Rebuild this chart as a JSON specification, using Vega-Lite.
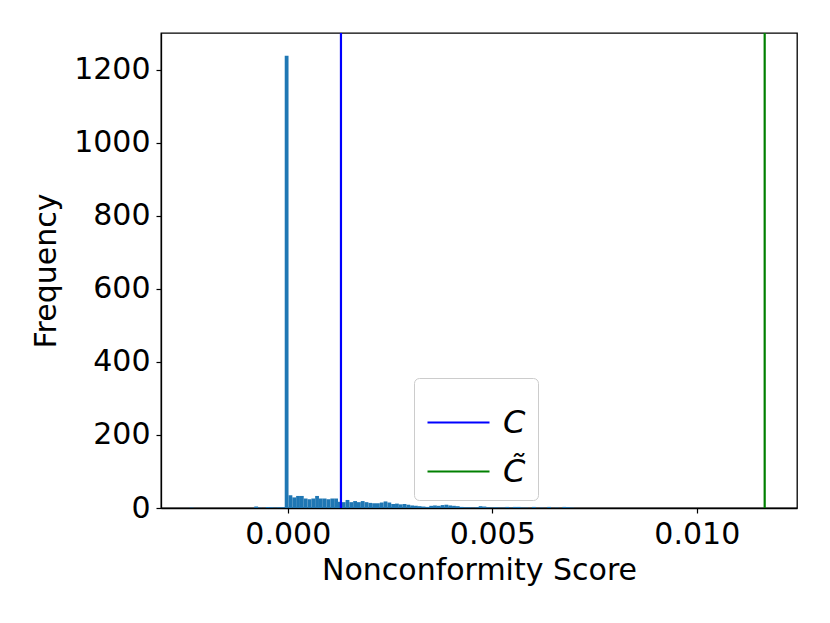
{
  "$schema": "https://vega.github.io/schema/vega-lite/v6.json",
  "width": 636,
  "height": 475,
  "autosize": {"type": "none"},
  "padding": {"left": 161, "top": 33, "right": 33, "bottom": 115},
  "background": "white",
  "config": {
    "font": "DejaVu Sans",
    "view": {"stroke": "black", "strokeWidth": 1.3},
    "axis": {"grid": false, "domainColor": "black", "tickColor": "black", "labelColor": "black", "titleColor": "black", "labelFont": "DejaVu Sans", "titleFont": "DejaVu Sans", "labelFontSize": 30, "titleFontSize": 30, "titleFontWeight": "normal", "tickSize": 5, "tickWidth": 1.2, "domainWidth": 1.3}
  },
  "datasets": {
    "hist": [
      {"b0": -0.002400, "b1": -0.002307, "count": 1},
      {"b0": -0.000819, "b1": -0.000726, "count": 4},
      {"b0": -0.000726, "b1": -0.000633, "count": 1},
      {"b0": -0.000540, "b1": -0.000447, "count": 3},
      {"b0": -0.000447, "b1": -0.000354, "count": 2},
      {"b0": -0.000354, "b1": -0.000261, "count": 1},
      {"b0": -0.000261, "b1": -0.000168, "count": 2},
      {"b0": -0.000168, "b1": -0.000075, "count": 2},
      {"b0": -0.000075, "b1": 0.000018, "count": 1239},
      {"b0": 0.000018, "b1": 0.000111, "count": 35},
      {"b0": 0.000111, "b1": 0.000204, "count": 29},
      {"b0": 0.000204, "b1": 0.000297, "count": 33},
      {"b0": 0.000297, "b1": 0.000390, "count": 33},
      {"b0": 0.000390, "b1": 0.000483, "count": 26},
      {"b0": 0.000483, "b1": 0.000576, "count": 24},
      {"b0": 0.000576, "b1": 0.000669, "count": 26},
      {"b0": 0.000669, "b1": 0.000762, "count": 33},
      {"b0": 0.000762, "b1": 0.000855, "count": 26},
      {"b0": 0.000855, "b1": 0.000948, "count": 26},
      {"b0": 0.000948, "b1": 0.001041, "count": 24},
      {"b0": 0.001041, "b1": 0.001134, "count": 26},
      {"b0": 0.001134, "b1": 0.001227, "count": 26},
      {"b0": 0.001227, "b1": 0.001320, "count": 17},
      {"b0": 0.001320, "b1": 0.001413, "count": 16},
      {"b0": 0.001413, "b1": 0.001506, "count": 22},
      {"b0": 0.001506, "b1": 0.001599, "count": 16},
      {"b0": 0.001599, "b1": 0.001692, "count": 19},
      {"b0": 0.001692, "b1": 0.001785, "count": 16},
      {"b0": 0.001785, "b1": 0.001878, "count": 19},
      {"b0": 0.001878, "b1": 0.001971, "count": 16},
      {"b0": 0.001971, "b1": 0.002064, "count": 14},
      {"b0": 0.002064, "b1": 0.002157, "count": 13},
      {"b0": 0.002157, "b1": 0.002250, "count": 13},
      {"b0": 0.002250, "b1": 0.002343, "count": 15},
      {"b0": 0.002343, "b1": 0.002436, "count": 18},
      {"b0": 0.002436, "b1": 0.002529, "count": 15},
      {"b0": 0.002529, "b1": 0.002622, "count": 11},
      {"b0": 0.002622, "b1": 0.002715, "count": 12},
      {"b0": 0.002715, "b1": 0.002808, "count": 10},
      {"b0": 0.002808, "b1": 0.002901, "count": 11},
      {"b0": 0.002901, "b1": 0.002994, "count": 9},
      {"b0": 0.002994, "b1": 0.003087, "count": 7},
      {"b0": 0.003087, "b1": 0.003180, "count": 6},
      {"b0": 0.003180, "b1": 0.003273, "count": 5},
      {"b0": 0.003273, "b1": 0.003366, "count": 4},
      {"b0": 0.003366, "b1": 0.003459, "count": 3},
      {"b0": 0.003459, "b1": 0.003552, "count": 6},
      {"b0": 0.003552, "b1": 0.003645, "count": 7},
      {"b0": 0.003645, "b1": 0.003738, "count": 6},
      {"b0": 0.003738, "b1": 0.003831, "count": 8},
      {"b0": 0.003831, "b1": 0.003924, "count": 9},
      {"b0": 0.003924, "b1": 0.004017, "count": 7},
      {"b0": 0.004017, "b1": 0.004110, "count": 6},
      {"b0": 0.004110, "b1": 0.004203, "count": 5},
      {"b0": 0.004203, "b1": 0.004296, "count": 3},
      {"b0": 0.004296, "b1": 0.004389, "count": 2},
      {"b0": 0.004389, "b1": 0.004482, "count": 2},
      {"b0": 0.004482, "b1": 0.004575, "count": 1},
      {"b0": 0.004575, "b1": 0.004668, "count": 2},
      {"b0": 0.004668, "b1": 0.004761, "count": 5},
      {"b0": 0.004761, "b1": 0.004854, "count": 4},
      {"b0": 0.004854, "b1": 0.004947, "count": 2},
      {"b0": 0.004947, "b1": 0.005040, "count": 1},
      {"b0": 0.005040, "b1": 0.005133, "count": 2},
      {"b0": 0.005133, "b1": 0.005226, "count": 1},
      {"b0": 0.005226, "b1": 0.005319, "count": 1},
      {"b0": 0.005319, "b1": 0.005412, "count": 3},
      {"b0": 0.005412, "b1": 0.005505, "count": 1},
      {"b0": 0.005505, "b1": 0.005598, "count": 3},
      {"b0": 0.005598, "b1": 0.005691, "count": 3},
      {"b0": 0.005691, "b1": 0.005784, "count": 1},
      {"b0": 0.005784, "b1": 0.005877, "count": 1},
      {"b0": 0.005970, "b1": 0.006063, "count": 3},
      {"b0": 0.006156, "b1": 0.006249, "count": 1},
      {"b0": 0.006342, "b1": 0.006435, "count": 3},
      {"b0": 0.006528, "b1": 0.006621, "count": 1},
      {"b0": 0.006714, "b1": 0.006807, "count": 3},
      {"b0": 0.006807, "b1": 0.006900, "count": 2},
      {"b0": 0.006900, "b1": 0.006993, "count": 1}
    ],
    "lines": [
      {"name": "C", "score": 0.0013},
      {"name": "C̃", "score": 0.01166}
    ]
  },
  "layer": [
    {
      "data": {"name": "hist"},
      "mark": {"type": "rect", "color": "#1f77b4", "strokeWidth": 0},
      "encoding": {
        "x": {"field": "b0", "type": "quantitative", "scale": {"domain": [-0.0031, 0.01245], "nice": false, "zero": false}, "axis": {"values": [0, 0.005, 0.01], "format": ".3f", "title": "Nonconformity Score", "titlePadding": 6, "labelPadding": 6}},
        "x2": {"field": "b1"},
        "y": {"field": "count", "type": "quantitative", "scale": {"domain": [0, 1301], "nice": false}, "axis": {"values": [0, 200, 400, 600, 800, 1000, 1200], "format": "d", "title": "Frequency", "titlePadding": 12, "labelPadding": 6}},
        "y2": {"datum": 0}
      }
    },
    {
      "data": {"name": "lines"},
      "mark": {"type": "rule", "strokeWidth": 2.2},
      "encoding": {
        "x": {"field": "score", "type": "quantitative"},
        "color": {"field": "name", "type": "nominal", "scale": {"domain": ["C", "C̃"], "range": ["#0000ff", "#008000"]}, "legend": {"title": null, "orient": "none", "legendX": 253, "legendY": 345, "symbolType": "stroke", "symbolSize": 3844, "symbolStrokeWidth": 2.2, "labelFontSize": 32, "labelFontStyle": "italic", "labelFont": "DejaVu Sans", "labelColor": "black", "rowPadding": 0, "padding": 12, "strokeColor": "#cccccc", "fillColor": "white", "cornerRadius": 5, "labelOffset": 12}}
      }
    }
  ]
}
